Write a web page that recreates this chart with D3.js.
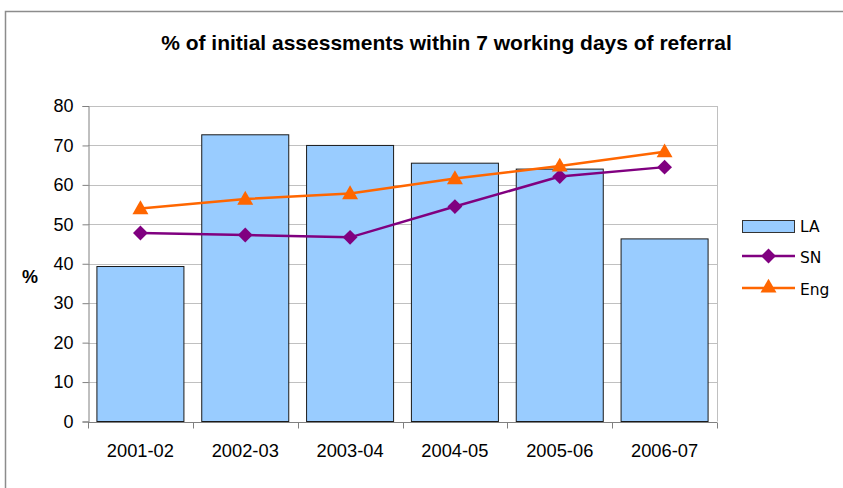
<!DOCTYPE html>
<html>
<head>
<meta charset="utf-8">
<script src="https://cdn.jsdelivr.net/npm/d3@7"></script>
<style>
  body { margin: 0; background: #fff; }
  svg { font-family: "Liberation Sans", Arial, sans-serif; }
</style>
</head>
<body>
<svg id="chart" width="843" height="488"></svg>
<script>
var years = ["2001-02", "2002-03", "2003-04", "2004-05", "2005-06", "2006-07"];
var la = [39.3, 72.7, 70, 65.5, 64, 46.3];
var sn = [47.8, 47.3, 46.7, 54.5, 62.1, 64.5];
var eng = [54, 56.4, 57.8, 61.6, 64.8, 68.4];
var yTicks = [0, 10, 20, 30, 40, 50, 60, 70, 80];

var svg = d3.select("#chart");
var plotL = 88, plotR = 717, plotT = 106, plotB = 421.5;

// outer frame (runs off the page right and bottom)
svg.append("rect")
  .attr("x", 5.5).attr("y", 11.5)
  .attr("width", 900).attr("height", 600)
  .attr("fill", "#fff").attr("stroke", "#8c8c8c").attr("stroke-width", 1.5);

var x = d3.scaleBand().domain(years).range([plotL, plotR]).paddingInner(0.17).paddingOuter(0.085);
var xc = d3.scaleBand().domain(years).range([plotL, plotR]);
var y = d3.scaleLinear().domain([0, 80]).range([plotB, plotT]);

// gridlines
svg.append("g").selectAll("line")
  .data(yTicks.slice(1))
  .enter().append("line")
  .attr("x1", plotL).attr("x2", plotR)
  .attr("y1", function(d) { return Math.round(y(d)) + 0.5; })
  .attr("y2", function(d) { return Math.round(y(d)) + 0.5; })
  .attr("stroke", "#c0c0c0");

// right plot edge
svg.append("line")
  .attr("x1", plotR + 0.5).attr("x2", plotR + 0.5)
  .attr("y1", plotT).attr("y2", plotB)
  .attr("stroke", "#c0c0c0");

// bars
svg.append("g").selectAll("rect")
  .data(la)
  .enter().append("rect")
  .attr("x", function(d, i) { return x(years[i]); })
  .attr("width", x.bandwidth())
  .attr("y", function(d) { return y(d); })
  .attr("height", function(d) { return plotB - y(d); })
  .attr("fill", "#99ccff")
  .attr("stroke", "#1a1a1a").attr("stroke-width", 1);

// y axis
var yAxis = svg.append("g")
  .attr("transform", "translate(" + (plotL + 0.5) + ",0)")
  .call(d3.axisLeft(y).tickValues(yTicks).tickSize(6).tickPadding(9));
yAxis.selectAll("path, line").attr("stroke", "#808080");
yAxis.selectAll("text").attr("font-size", 18).attr("fill", "#000")
  .attr("font-family", "Liberation Sans, Arial, sans-serif");

// x axis
var xAxis = svg.append("g")
  .attr("transform", "translate(0," + (Math.round(plotB) + 0.5) + ")");
xAxis.append("line")
  .attr("x1", plotL).attr("x2", plotR).attr("stroke", "#808080");
xAxis.selectAll("line.tk")
  .data(years.concat(["end"]))
  .enter().append("line")
  .attr("class", "tk")
  .attr("x1", function(d, i) { return Math.round(plotL + i * xc.bandwidth()) + 0.5; })
  .attr("x2", function(d, i) { return Math.round(plotL + i * xc.bandwidth()) + 0.5; })
  .attr("y1", 0).attr("y2", 6)
  .attr("stroke", "#808080");
xAxis.selectAll("text")
  .data(years)
  .enter().append("text")
  .attr("x", function(d) { return xc(d) + xc.bandwidth() / 2; })
  .attr("y", 34)
  .attr("text-anchor", "middle")
  .attr("font-size", 18.3)
  .text(function(d) { return d; });

// lines
function drawLine(data, color) {
  var line = d3.line()
    .x(function(d, i) { return xc(years[i]) + xc.bandwidth() / 2; })
    .y(function(d) { return y(d); });
  svg.append("path")
    .datum(data)
    .attr("d", line)
    .attr("fill", "none")
    .attr("stroke", color)
    .attr("stroke-width", 2.5);
}
drawLine(sn, "#800080");
drawLine(eng, "#ff6600");

var diamond = d3.symbol().type(d3.symbolSquare).size(110);
var tri = d3.symbol().type(d3.symbolTriangle).size(110);

svg.append("g").selectAll("path")
  .data(sn)
  .enter().append("path")
  .attr("d", diamond)
  .attr("transform", function(d, i) {
    return "translate(" + (xc(years[i]) + xc.bandwidth() / 2) + "," + y(d) + ") rotate(45)";
  })
  .attr("fill", "#800080");

svg.append("g").selectAll("path")
  .data(eng)
  .enter().append("path")
  .attr("d", tri)
  .attr("transform", function(d, i) {
    return "translate(" + (xc(years[i]) + xc.bandwidth() / 2) + "," + (y(d) + 1) + ")";
  })
  .attr("fill", "#ff6600");

// title
svg.append("text")
  .attr("x", 446.5).attr("y", 50)
  .attr("text-anchor", "middle")
  .attr("font-size", 21).attr("font-weight", "bold")
  .text("% of initial assessments within 7 working days of referral");

// y label
svg.append("text")
  .attr("x", 30).attr("y", 283)
  .attr("text-anchor", "middle")
  .attr("font-size", 18).attr("font-weight", "bold")
  .text("%");

// legend
var lg = svg.append("g").attr("transform", "translate(742,0)")
  .attr("font-family", "DejaVu Sans, Verdana, sans-serif").attr("font-size", 15.5);
lg.append("rect")
  .attr("x", 0.5).attr("y", 220.5).attr("width", 52).attr("height", 12)
  .attr("fill", "#99ccff").attr("stroke", "#333");
lg.append("text").attr("x", 58).attr("y", 232).text("LA");

lg.append("line").attr("x1", 0).attr("x2", 53).attr("y1", 256).attr("y2", 256)
  .attr("stroke", "#800080").attr("stroke-width", 2.5);
lg.append("path").attr("d", diamond)
  .attr("transform", "translate(26.5,256) rotate(45)").attr("fill", "#800080");
lg.append("text").attr("x", 58).attr("y", 262.5).text("SN");

lg.append("line").attr("x1", 0).attr("x2", 53).attr("y1", 288).attr("y2", 288)
  .attr("stroke", "#ff6600").attr("stroke-width", 2.5);
lg.append("path").attr("d", tri)
  .attr("transform", "translate(26.5,288)").attr("fill", "#ff6600");
lg.append("text").attr("x", 58).attr("y", 294.5).text("Eng");
</script>
</body>
</html>
